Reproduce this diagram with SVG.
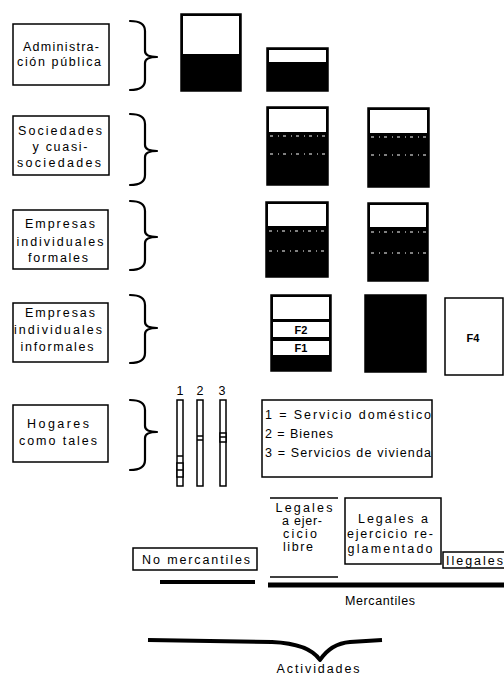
<svg xmlns="http://www.w3.org/2000/svg" width="504" height="675" viewBox="0 0 504 675">
<style>
.bg{fill:#fff}
.box{fill:#fff;stroke:#000;stroke-width:1.5}
.blk{fill:#000;stroke:#000;stroke-width:1.5}
.wht{fill:#fff;stroke:#000;stroke-width:2}
.t{font-family:"Liberation Sans",Arial,sans-serif;font-size:12.5px;fill:#000}
.c{text-anchor:middle}
.b{font-weight:bold;font-size:11px}
.brace{fill:none;stroke:#000;stroke-width:2.2;stroke-linecap:round;stroke-linejoin:round}
.dl{stroke:#fff;stroke-width:1;stroke-dasharray:3 5 1 4}
.thick{stroke:#000;fill:none}
</style>
<rect class="bg" x="0" y="0" width="504" height="675"/>

<g id="n-admin">
<rect class="box" x="13" y="24" width="96" height="61"/>
<text class="t c" x="61" y="51" textLength="76" lengthAdjust="spacing">Administra-</text>
<text class="t c" x="59" y="66" textLength="84" lengthAdjust="spacing">ción pública</text>
</g>
<g id="n-soc">
<rect class="box" x="13" y="116" width="96" height="59"/>
<text class="t c" x="60" y="135" textLength="84" lengthAdjust="spacing">Sociedades</text>
<text class="t c" x="60" y="151" textLength="55" lengthAdjust="spacing">y cuasi-</text>
<text class="t c" x="59" y="167" textLength="84" lengthAdjust="spacing">sociedades</text>
</g>
<g id="n-empf">
<rect class="box" x="13" y="210" width="95" height="59"/>
<text class="t c" x="60" y="228" textLength="70" lengthAdjust="spacing">Empresas</text>
<text class="t c" x="60" y="246" textLength="87" lengthAdjust="spacing">individuales</text>
<text class="t c" x="58" y="262" textLength="60" lengthAdjust="spacing">formales</text>
</g>
<g id="n-empi">
<rect class="box" x="13" y="303" width="95" height="59"/>
<text class="t c" x="60" y="317" textLength="70" lengthAdjust="spacing">Empresas</text>
<text class="t c" x="58" y="334" textLength="88" lengthAdjust="spacing">individuales</text>
<text class="t c" x="57" y="351" textLength="73" lengthAdjust="spacing">informales</text>
</g>
<g id="n-hog">
<rect class="box" x="13" y="405" width="95" height="57"/>
<text class="t c" x="58" y="428" textLength="62" lengthAdjust="spacing">Hogares</text>
<text class="t c" x="58" y="445" textLength="78" lengthAdjust="spacing">como tales</text>
</g>

<g id="connectors">
<path class="brace" d="M130,21 Q145,21 145,31 L145,51 Q145,57 157,57 Q145,57 145,63 L145,80 Q145,90 130,90"/>
<path class="brace" d="M130,114 Q145,114 145,124 L145,145 Q145,151 157,151 Q145,151 145,157 L145,175 Q145,185 130,185"/>
<path class="brace" d="M130,201 Q145,201 145,211 L145,231 Q145,237 157,237 Q145,237 145,243 L145,260 Q145,270 130,270"/>
<path class="brace" d="M130,295 Q145,295 145,305 L145,322 Q145,328 157,328 Q145,328 145,334 L145,353 Q145,363 130,363"/>
<path class="brace" d="M130,400 Q145,400 145,410 L145,426 Q145,432 157,432 Q145,432 145,438 L145,460 Q145,470 130,470"/>
<path class="thick" stroke-width="4" d="M160,582 L255,582"/>
<path class="thick" stroke-width="5" d="M268,585 L504,585"/>
<path class="thick" stroke-width="4" stroke-linejoin="round" d="M148,640 L272,642 C295,643 312,648 320,660 C328,648 338,643 350,642 L382,640"/>
</g>

<g id="blk-admin-1">
<rect class="blk" x="181" y="14" width="60" height="77"/>
<rect class="wht" x="182" y="15" width="58" height="40"/>
</g>
<g id="blk-admin-2">
<rect class="blk" x="267" y="48" width="61" height="43"/>
<rect class="wht" x="268" y="49" width="59" height="14"/>
</g>
<g id="blk-soc-1">
<rect class="blk" x="267" y="107" width="61" height="78"/>
<rect class="wht" x="268" y="108" width="59" height="25"/>
<line class="dl" x1="270" y1="136" x2="326" y2="136"/>
<line class="dl" x1="270" y1="154" x2="326" y2="154"/>
</g>
<g id="blk-soc-2">
<rect class="blk" x="368" y="108" width="61" height="79"/>
<rect class="wht" x="369" y="109" width="59" height="25"/>
<line class="dl" x1="371" y1="137" x2="427" y2="137"/>
<line class="dl" x1="371" y1="155" x2="427" y2="155"/>
</g>
<g id="blk-empf-1">
<rect class="blk" x="266" y="202" width="62" height="75"/>
<rect class="wht" x="267" y="203" width="60" height="24"/>
<line class="dl" x1="269" y1="231" x2="326" y2="231"/>
<line class="dl" x1="269" y1="251" x2="326" y2="251"/>
</g>
<g id="blk-empf-2">
<rect class="blk" x="368" y="203" width="60" height="78"/>
<rect class="wht" x="369" y="204" width="58" height="24"/>
<line class="dl" x1="371" y1="232" x2="426" y2="232"/>
<line class="dl" x1="371" y1="253" x2="426" y2="253"/>
</g>
<g id="blk-empi-1">
<rect class="blk" x="271" y="295" width="60" height="76"/>
<rect class="wht" x="272" y="296" width="58" height="24" stroke-width="1"/>
<rect class="wht" x="272" y="321" width="58" height="17" stroke-width="1"/>
<rect class="wht" x="272" y="340" width="58" height="16" stroke-width="1"/>
<text class="t c b" x="301" y="334">F2</text>
<text class="t c b" x="301" y="352">F1</text>
</g>
<g id="blk-empi-2">
<rect class="blk" x="365" y="295" width="61" height="77"/>
</g>
<g id="blk-f4">
<rect class="box" x="445" y="298" width="58" height="77"/>
<text class="t c b" x="473" y="342">F4</text>
</g>

<g id="bars">
<text class="t c" x="180" y="395" font-size="9">1</text>
<text class="t c" x="200" y="395" font-size="9">2</text>
<text class="t c" x="222" y="395" font-size="9">3</text>
<rect class="box" x="177" y="400" width="6" height="86"/>
<line stroke="#000" stroke-width="1.5" x1="177" y1="456" x2="183" y2="456"/>
<rect class="box" x="177" y="463" width="6" height="14"/>
<line stroke="#000" stroke-width="1.5" x1="177" y1="470" x2="183" y2="470"/>
<rect class="box" x="197" y="400" width="6" height="86"/>
<line stroke="#000" stroke-width="1.5" x1="197" y1="436" x2="203" y2="436"/>
<line stroke="#000" stroke-width="1.5" x1="197" y1="440" x2="203" y2="440"/>
<rect class="box" x="220" y="400" width="6" height="86"/>
<rect class="box" x="220" y="433" width="6" height="9"/>
<line stroke="#000" stroke-width="1.5" x1="220" y1="437" x2="226" y2="437"/>
</g>

<g id="legend">
<rect class="box" x="262" y="400" width="170" height="77"/>
<text class="t" x="265" y="419" textLength="166" lengthAdjust="spacing">1 = Servicio doméstico</text>
<text class="t" x="265" y="438" textLength="68" lengthAdjust="spacing">2 = Bienes</text>
<text class="t" x="265" y="457" textLength="166" lengthAdjust="spacing">3 = Servicios de vivienda</text>
</g>

<g id="n-nomerc">
<rect class="box" x="133" y="548" width="124" height="22"/>
<text class="t c" x="196" y="564" textLength="108" lengthAdjust="spacing">No mercantiles</text>
</g>
<g id="n-libre">
<line stroke="#000" stroke-width="1.5" x1="270" y1="498" x2="338" y2="498"/>
<line stroke="#000" stroke-width="1.5" x1="270" y1="577" x2="338" y2="577"/>
<text class="t c" x="304" y="512" textLength="57" lengthAdjust="spacing">Legales</text>
<text class="t c" x="302" y="525" textLength="40" lengthAdjust="spacing">a ejer-</text>
<text class="t c" x="300" y="538" textLength="34" lengthAdjust="spacing">cicio</text>
<text class="t c" x="298" y="551" textLength="30" lengthAdjust="spacing">libre</text>
</g>
<g id="n-regl">
<rect class="box" x="345" y="498" width="96" height="66"/>
<text class="t c" x="393" y="523" textLength="70" lengthAdjust="spacing">Legales a</text>
<text class="t c" x="390" y="538" textLength="86" lengthAdjust="spacing">ejercicio re-</text>
<text class="t c" x="390" y="553" textLength="85" lengthAdjust="spacing">glamentado</text>
</g>
<g id="n-ileg">
<rect class="box" x="443" y="552" width="62" height="16"/>
<text class="t" x="446" y="565" textLength="57" lengthAdjust="spacing">Ilegales</text>
</g>
<text class="t c" x="380" y="605" textLength="70" lengthAdjust="spacing">Mercantiles</text>
<text class="t c" x="318" y="673" textLength="83" lengthAdjust="spacing">Actividades</text>
</svg>
